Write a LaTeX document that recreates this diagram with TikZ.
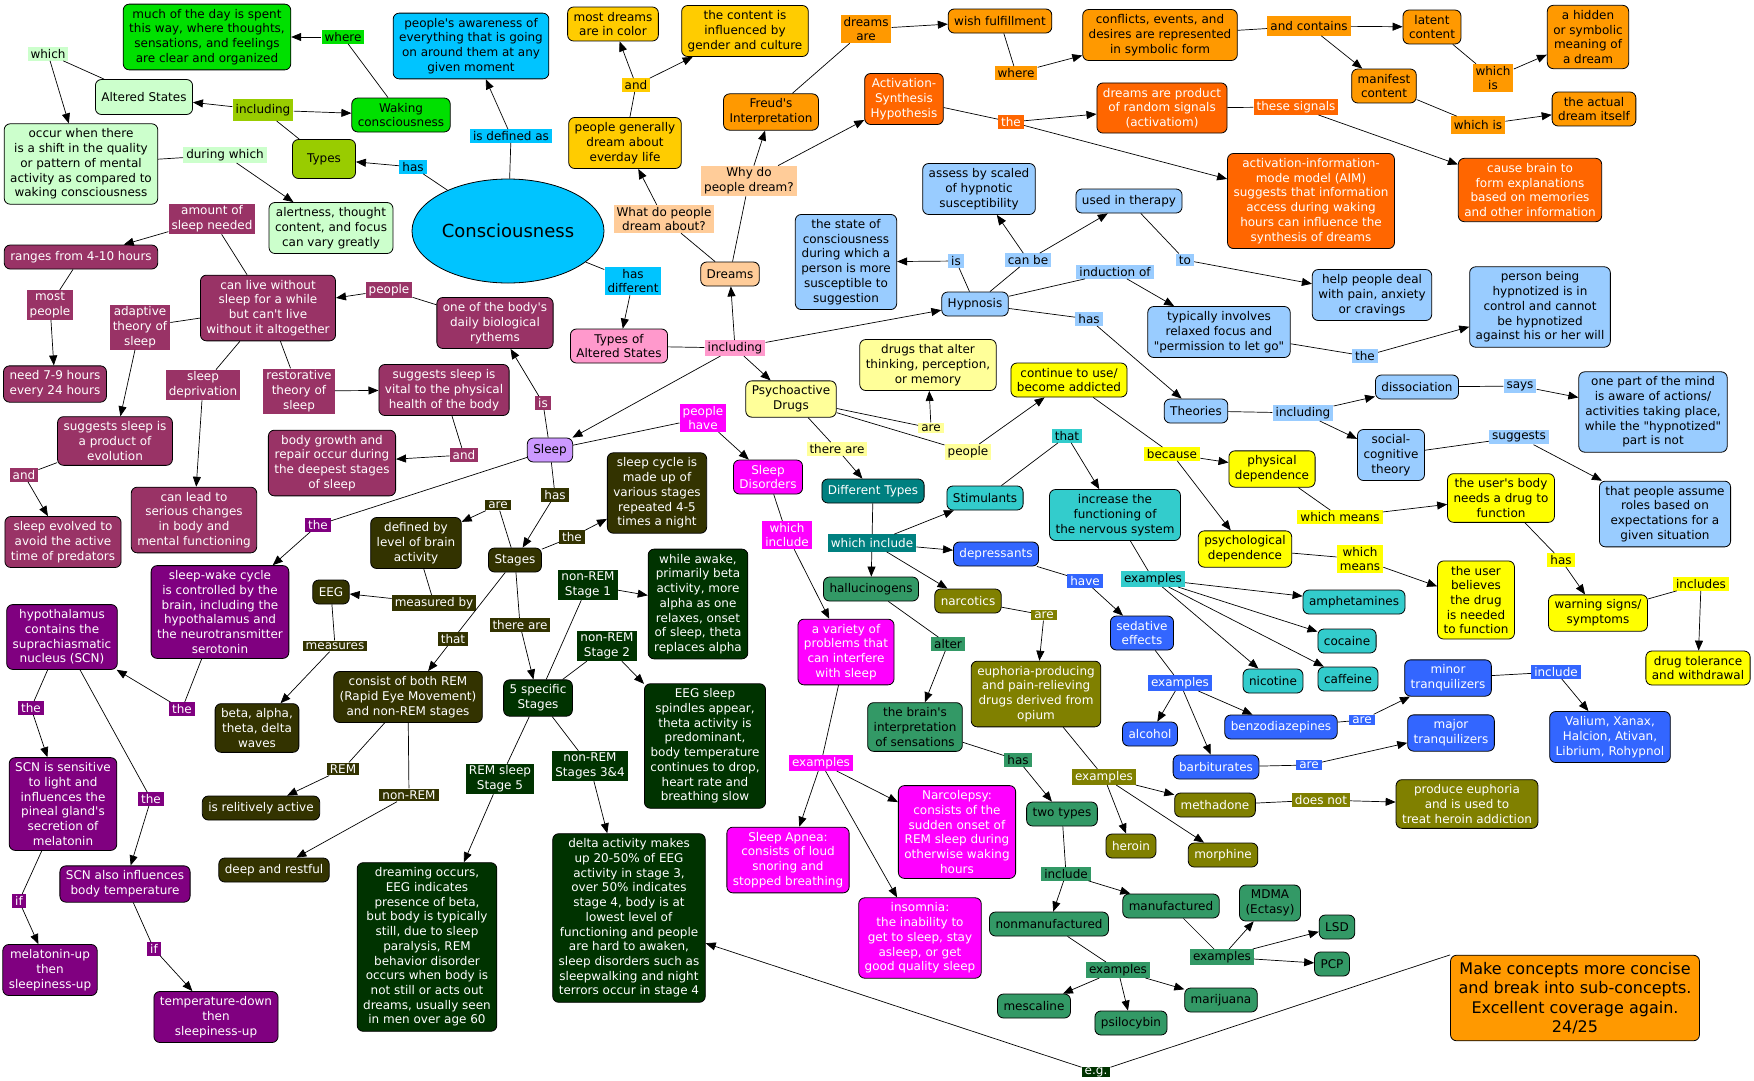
\documentclass[tikz,border=0pt]{standalone}
\usepackage{fontspec}
\setmainfont{DejaVu Sans}
\usetikzlibrary{arrows.meta,shapes.geometric}
\definecolor{mapCyan}{HTML}{00C4FF}
\definecolor{mapGreen}{HTML}{00E000}
\definecolor{mapPaleGreen}{HTML}{CCFFCC}
\definecolor{mapYellowGreen}{HTML}{99CC00}
\definecolor{mapGold}{HTML}{FFCC00}
\definecolor{mapPeach}{HTML}{FFCC99}
\definecolor{mapOrange}{HTML}{FF9900}
\definecolor{mapDarkOrange}{HTML}{FF6600}
\definecolor{mapSky}{HTML}{99CCFF}
\definecolor{mapPink}{HTML}{FF99CC}
\definecolor{mapLightYellow}{HTML}{FFFF99}
\definecolor{mapYellow}{HTML}{FFFF00}
\definecolor{mapTeal}{HTML}{008080}
\definecolor{mapTurq}{HTML}{33CCCC}
\definecolor{mapRoyal}{HTML}{3366FF}
\definecolor{mapOlive}{HTML}{808000}
\definecolor{mapSeaGreen}{HTML}{339966}
\definecolor{mapMagenta}{HTML}{FF00FF}
\definecolor{mapLavender}{HTML}{CC99FF}
\definecolor{mapMaroon}{HTML}{993366}
\definecolor{mapPurple}{HTML}{800080}
\definecolor{mapDarkOlive}{HTML}{333300}
\definecolor{mapDarkGreen}{HTML}{003300}
\newcommand{\ap}{\textquotesingle}
\newcommand{\qt}{\textquotedbl}

\begin{document}
\begin{tikzpicture}[x=1pt,y=-1pt]
\tikzset{
  cbox/.style={draw=black,line width=0.8pt,rounded corners=6pt,align=center,inner xsep=6pt,inner ysep=5pt,minimum height=24pt,font=\fontsize{12}{14.7}\selectfont},
  lbox/.style={align=center,inner xsep=3pt,inner ysep=2pt,font=\fontsize{12}{14.7}\selectfont},
  mapedge/.style={draw=black,line width=0.7pt},
  directed/.style={mapedge,-{Triangle[length=10pt,width=8pt]}},
  undirected/.style={mapedge},
  oncyan/.style={fill=mapCyan},
  ongreen/.style={fill=mapGreen},
  onpalegreen/.style={fill=mapPaleGreen},
  onyellowgreen/.style={fill=mapYellowGreen},
  ongold/.style={fill=mapGold},
  onpeach/.style={fill=mapPeach},
  onorange/.style={fill=mapOrange},
  ondarkorange/.style={fill=mapDarkOrange,text=white},
  onsky/.style={fill=mapSky},
  onpink/.style={fill=mapPink},
  onlightyellow/.style={fill=mapLightYellow},
  onyellow/.style={fill=mapYellow},
  onteal/.style={fill=mapTeal,text=white},
  onturq/.style={fill=mapTurq},
  onroyal/.style={fill=mapRoyal,text=white},
  onolive/.style={fill=mapOlive,text=white},
  onseagreen/.style={fill=mapSeaGreen},
  onmagenta/.style={fill=mapMagenta,text=white},
  onlavender/.style={fill=mapLavender},
  onmaroon/.style={fill=mapMaroon,text=white},
  onpurple/.style={fill=mapPurple,text=white},
  ondarkolive/.style={fill=mapDarkOlive,text=white},
  ondarkgreen/.style={fill=mapDarkGreen,text=white}
}
\fill[white] (0,0) rectangle (1754,1080);
\useasboundingbox (0,0) rectangle (1754,1080);

\node[ellipse,draw=black,line width=0.8pt,oncyan,minimum width=192pt,minimum height=104pt,inner sep=0pt,font=\fontsize{18}{22}\selectfont] (n_consc) at (508,231) {Consciousness};
\node[cbox,oncyan] (n_aware) at (471,46) {people\ap s awareness of\\everything that is going\\on around them at any\\given moment};
\node[lbox,oncyan] (l_isdef) at (511,136) {is defined as};
\node[lbox,oncyan] (l_has1) at (413,167) {has};
\node[lbox,oncyan] (l_hasdiff) at (633,281) {has\\different};

\node[cbox,ongreen] (n_muchday) at (207,37) {much of the day is spent\\this way, where thoughts,\\sensations, and feelings\\are clear and organized};
\node[cbox,ongreen] (n_waking) at (401,115) {Waking\\consciousness};
\node[lbox,ongreen] (l_where1) at (343,37) {where};
\node[cbox,onpalegreen,minimum height=35pt] (n_altered) at (144,97) {Altered States};
\node[cbox,onpalegreen] (n_occur) at (81,164) {occur when there\\is a shift in the quality\\or pattern of mental\\activity as compared to\\waking consciousness};
\node[cbox,onpalegreen] (n_alert) at (331,228) {alertness, thought\\content, and focus\\can vary greatly};
\node[lbox,onpalegreen] (l_which) at (48,54) {which};
\node[lbox,onpalegreen] (l_during) at (225,155) {during which};
\node[cbox,onyellowgreen,minimum height=39pt,minimum width=63pt] (n_types) at (324,159) {Types};
\node[lbox,onyellowgreen,inner ysep=5pt] (l_incl1) at (263,110) {including};

\node[cbox,ongold] (n_color) at (613,24) {most dreams\\are in color};
\node[cbox,ongold] (n_gender) at (745,31) {the content is\\influenced by\\gender and culture};
\node[cbox,ongold] (n_everyday) at (625,143) {people generally\\dream about\\everday life};
\node[lbox,ongold] (l_and1) at (636,85) {and};
\node[cbox,onpeach] (n_dreams) at (730,274) {Dreams};
\node[lbox,onpeach] (l_what) at (664,219) {What do people\\dream about?};
\node[lbox,onpeach] (l_why) at (749,181) {Why do\\people dream?};
\node[cbox,onorange] (n_freud) at (771,112) {Freud\ap s\\Interpretation};
\node[cbox,onorange] (n_wish) at (1000,21) {wish fulfillment};
\node[cbox,onorange] (n_conflict) at (1160,35) {conflicts, events, and\\desires are represented\\in symbolic form};
\node[cbox,onorange] (n_latent) at (1432,27) {latent\\content};
\node[cbox,onorange] (n_manifest) at (1384,86) {manifest\\content};
\node[cbox,onorange] (n_hidden) at (1588,37) {a hidden\\or symbolic\\meaning of\\a dream};
\node[cbox,onorange] (n_actual) at (1594,109) {the actual\\dream itself};
\node[lbox,onorange] (l_dreamsare) at (866,29) {dreams\\are};
\node[lbox,onorange] (l_where2) at (1016,73) {where};
\node[lbox,onorange,inner ysep=5pt] (l_contains) at (1309,26) {and contains};
\node[lbox,onorange] (l_whichis1) at (1493,78) {which\\is};
\node[lbox,onorange,inner ysep=4pt] (l_whichis2) at (1478,125) {which is};
\node[cbox,ondarkorange] (n_actsyn) at (904,99) {Activation-\\Synthesis\\Hypothesis};
\node[cbox,ondarkorange] (n_random) at (1162,108) {dreams are product\\of random signals\\(activatiom)};
\node[cbox,ondarkorange] (n_aim) at (1311,201) {activation-information-\\mode model (AIM)\\suggests that information\\access during waking\\hours can influence the\\synthesis of dreams};
\node[cbox,ondarkorange] (n_cause) at (1530,190) {cause brain to\\form explanations\\based on memories\\and other information};
\node[lbox,ondarkorange] (l_the1) at (1011,122) {the};
\node[lbox,ondarkorange] (l_signals) at (1296,107) {these signals};

\node[cbox,onsky] (n_hypnosis) at (975,304) {Hypnosis};
\node[cbox,onsky] (n_suscept) at (846,262) {the state of\\consciousness\\during which a\\person is more\\susceptible to\\suggestion};
\node[cbox,onsky] (n_assess) at (979,189) {assess by scaled\\of hypnotic\\susceptibility};
\node[cbox,onsky] (n_therapy) at (1129,201) {used in therapy};
\node[cbox,onsky] (n_pain) at (1372,295) {help people deal\\with pain, anxiety\\or cravings};
\node[cbox,onsky] (n_relaxed) at (1219,332) {typically involves\\relaxed focus and\\\qt permission to let go\qt};
\node[cbox,onsky] (n_control) at (1540,307) {person being\\hypnotized is in\\control and cannot\\be hypnotized\\against his or her will};
\node[cbox,onsky] (n_theories) at (1196,411) {Theories};
\node[cbox,onsky] (n_dissoc) at (1417,387) {dissociation};
\node[cbox,onsky] (n_social) at (1391,455) {social-\\cognitive\\theory};
\node[cbox,onsky] (n_onepart) at (1653,412) {one part of the mind\\is aware of actions/\\activities taking place,\\while the \qt hypnotized\qt\\part is not};
\node[cbox,onsky] (n_roles) at (1665,514) {that people assume\\roles based on\\expectations for a\\given situation};
\node[lbox,onsky] (l_is1) at (956,261) {is};
\node[lbox,onsky] (l_canbe) at (1028,260) {can be};
\node[lbox,onsky] (l_induct) at (1115,272) {induction of};
\node[lbox,onsky] (l_to) at (1185,260) {to};
\node[lbox,onsky] (l_has2) at (1089,319) {has};
\node[lbox,onsky] (l_the2) at (1365,356) {the};
\node[lbox,onsky] (l_incl3) at (1303,413) {including};
\node[lbox,onsky] (l_says) at (1520,386) {says};
\node[lbox,onsky] (l_suggests) at (1519,437) {suggests};

\node[cbox,onpink] (n_typesalt) at (619,346) {Types of\\Altered States};
\node[lbox,onpink] (l_incl2) at (735,348) {including};

\node[cbox,onlightyellow] (n_psycho) at (791,399) {Psychoactive\\Drugs};
\node[cbox,onlightyellow] (n_alter) at (928,365) {drugs that alter\\thinking, perception,\\or memory};
\node[lbox,onlightyellow] (l_are1) at (931,428) {are};
\node[lbox,onlightyellow] (l_people2) at (968,452) {people};
\node[lbox,onlightyellow] (l_thereare1) at (837,449) {there are};
\node[cbox,onyellow] (n_addict) at (1069,380) {continue to use/\\become addicted};
\node[cbox,onyellow] (n_physical) at (1272,469) {physical\\dependence};
\node[cbox,onyellow] (n_psychol) at (1245,549) {psychological\\dependence};
\node[cbox,onyellow] (n_bodyneeds) at (1501,498) {the user\ap s body\\needs a drug to\\function};
\node[cbox,onyellow] (n_believes) at (1476,600) {the user\\believes\\the drug\\is needed\\to function};
\node[cbox,onyellow] (n_warning) at (1598,613) {warning signs/\\symptoms};
\node[cbox,onyellow] (n_tolerance) at (1698,668) {drug tolerance\\and withdrawal};
\node[lbox,onyellow] (l_because) at (1172,454) {because};
\node[lbox,onyellow] (l_means1) at (1340,517) {which means};
\node[lbox,onyellow] (l_means2) at (1360,559) {which\\means};
\node[lbox,onyellow] (l_has3) at (1561,560) {has};
\node[lbox,onyellow] (l_includes) at (1701,584) {includes};

\node[cbox,onteal] (n_difftypes) at (873,491) {Different Types};
\node[lbox,onteal,inner ysep=4pt] (l_whichincl1) at (872,543) {which include};
\node[cbox,onturq] (n_stim) at (985,498) {Stimulants};
\node[cbox,onturq] (n_increase) at (1115,515) {increase the\\functioning of\\the nervous system};
\node[cbox,onturq] (n_amph) at (1354,602) {amphetamines};
\node[cbox,onturq] (n_cocaine) at (1347,641) {cocaine};
\node[cbox,onturq] (n_caffeine) at (1348,679) {caffeine};
\node[cbox,onturq] (n_nicotine) at (1273,681) {nicotine};
\node[lbox,onturq] (l_that1) at (1067,436) {that};
\node[lbox,onturq] (l_ex1) at (1153,579) {examples};
\node[cbox,onroyal] (n_depress) at (996,554) {depressants};
\node[cbox,onroyal] (n_sedative) at (1142,633) {sedative\\effects};
\node[cbox,onroyal] (n_alcohol) at (1150,734) {alcohol};
\node[cbox,onroyal] (n_benzo) at (1281,727) {benzodiazepines};
\node[cbox,onroyal] (n_barb) at (1216,767) {barbiturates};
\node[cbox,onroyal] (n_minor) at (1448,678) {minor\\tranquilizers};
\node[cbox,onroyal] (n_major) at (1451,733) {major\\tranquilizers};
\node[cbox,onroyal] (n_valium) at (1610,737) {Valium, Xanax,\\Halcion, Ativan,\\Librium, Rohypnol};
\node[lbox,onroyal] (l_have) at (1085,581) {have};
\node[lbox,onroyal] (l_ex2) at (1180,683) {examples};
\node[lbox,onroyal] (l_are2) at (1362,720) {are};
\node[lbox,onroyal] (l_are3) at (1309,765) {are};
\node[lbox,onroyal] (l_include1) at (1556,672) {include};
\node[cbox,onolive] (n_narc) at (968,601) {narcotics};
\node[cbox,onolive] (n_euphoria) at (1036,694) {euphoria-producing\\and pain-relieving\\drugs derived from\\opium};
\node[cbox,onolive] (n_heroin) at (1131,846) {heroin};
\node[cbox,onolive] (n_morphine) at (1223,855) {morphine};
\node[cbox,onolive] (n_methadone) at (1215,805) {methadone};
\node[cbox,onolive] (n_produce) at (1467,804) {produce euphoria\\and is used to\\treat heroin addiction};
\node[lbox,onolive] (l_are4) at (1044,615) {are};
\node[lbox,onolive] (l_ex3) at (1104,777) {examples};
\node[lbox,onolive] (l_doesnot) at (1321,800) {does not};
\node[cbox,onseagreen] (n_halluc) at (871,589) {hallucinogens};
\node[cbox,onseagreen] (n_interp) at (915,727) {the brain\ap s\\interpretation\\of sensations};
\node[cbox,onseagreen] (n_twotypes) at (1062,814) {two types};
\node[cbox,onseagreen] (n_manuf) at (1171,906) {manufactured};
\node[cbox,onseagreen] (n_nonmanuf) at (1049,924) {nonmanufactured};
\node[cbox,onseagreen] (n_mdma) at (1270,903) {MDMA\\(Ectasy)};
\node[cbox,onseagreen] (n_lsd) at (1337,927) {LSD};
\node[cbox,onseagreen] (n_pcp) at (1332,964) {PCP};
\node[cbox,onseagreen] (n_mescaline) at (1034,1006) {mescaline};
\node[cbox,onseagreen] (n_psilo) at (1131,1023) {psilocybin};
\node[cbox,onseagreen] (n_marijuana) at (1221,1000) {marijuana};
\node[lbox,onseagreen] (l_alter) at (948,644) {alter};
\node[lbox,onseagreen] (l_has4) at (1018,760) {has};
\node[lbox,onseagreen] (l_include2) at (1066,874) {include};
\node[lbox,onseagreen] (l_ex4) at (1222,957) {examples};
\node[lbox,onseagreen] (l_ex5) at (1118,970) {examples};

\node[cbox,onlavender] (n_sleep) at (550,450) {Sleep};
\node[cbox,onmagenta] (n_disorders) at (768,477) {Sleep\\Disorders};
\node[cbox,onmagenta] (n_variety) at (846,652) {a variety of\\problems that\\can interfere\\with sleep};
\node[cbox,onmagenta] (n_apnea) at (788,860) {Sleep Apnea:\\consists of loud\\snoring and\\stopped breathing};
\node[cbox,onmagenta] (n_narco) at (957,832) {Narcolepsy:\\consists of the\\sudden onset of\\REM sleep during\\otherwise waking\\hours};
\node[cbox,onmagenta] (n_insomnia) at (920,938) {insomnia:\\the inability to\\get to sleep, stay\\asleep, or get\\good quality sleep};
\node[lbox,onmagenta] (l_peoplehave) at (703,418) {people\\have};
\node[lbox,onmagenta] (l_whichincl2) at (787,535) {which\\include};
\node[lbox,onmagenta] (l_ex6) at (821,763) {examples};

\node[cbox,onmaroon] (n_rhythm) at (495,323) {one of the body\ap s\\daily biological\\rythems};
\node[cbox,onmaroon] (n_canlive) at (268,308) {can live without\\sleep for a while\\but can\ap t live\\without it altogether};
\node[cbox,onmaroon] (n_ranges) at (81,257) {ranges from 4-10 hours};
\node[cbox,onmaroon] (n_need) at (55,384) {need 7-9 hours\\every 24 hours};
\node[cbox,onmaroon] (n_evolution) at (115,441) {suggests sleep is\\a product of\\evolution};
\node[cbox,onmaroon] (n_predators) at (63,542) {sleep evolved to\\avoid the active\\time of predators};
\node[cbox,onmaroon] (n_changes) at (194,520) {can lead to\\serious changes\\in body and\\mental functioning};
\node[cbox,onmaroon] (n_vital) at (444,390) {suggests sleep is\\vital to the physical\\health of the body};
\node[cbox,onmaroon] (n_growth) at (332,463) {body growth and\\repair occur during\\the deepest stages\\of sleep};
\node[lbox,onmaroon] (l_is2) at (543,403) {is};
\node[lbox,onmaroon] (l_people1) at (389,290) {people};
\node[lbox,onmaroon] (l_amount) at (212,219) {amount of\\sleep needed};
\node[lbox,onmaroon] (l_most) at (50,305) {most\\people};
\node[lbox,onmaroon] (l_adaptive) at (140,327) {adaptive\\theory of\\sleep};
\node[lbox,onmaroon] (l_depriv) at (203,385) {sleep\\deprivation};
\node[lbox,onmaroon] (l_restor) at (299,391) {restorative\\theory of\\sleep};
\node[lbox,onmaroon] (l_and2) at (24,475) {and};
\node[lbox,onmaroon] (l_and3) at (464,455) {and};

\node[cbox,onpurple] (n_cycle) at (220,612) {sleep-wake cycle\\is controlled by the\\brain, including the\\hypothalamus and\\the neurotransmitter\\serotonin};
\node[cbox,onpurple] (n_hypo) at (62,637) {hypothalamus\\contains the\\suprachiasmatic\\nucleus (SCN)};
\node[cbox,onpurple] (n_scnlight) at (63,804) {SCN is sensitive\\to light and\\influences the\\pineal gland\ap s\\secretion of\\melatonin};
\node[cbox,onpurple] (n_scntemp) at (125,884) {SCN also influences\\body temperature};
\node[cbox,onpurple] (n_melatonin) at (50,970) {melatonin-up\\then\\sleepiness-up};
\node[cbox,onpurple] (n_temp) at (216,1017) {temperature-down\\then\\sleepiness-up};
\node[lbox,onpurple] (l_the3) at (318,525) {the};
\node[lbox,onpurple] (l_the4) at (182,709) {the};
\node[lbox,onpurple] (l_the5) at (31,708) {the};
\node[lbox,onpurple] (l_the6) at (151,799) {the};
\node[lbox,onpurple] (l_if1) at (19,901) {if};
\node[lbox,onpurple] (l_if2) at (154,949) {if};

\node[cbox,ondarkolive] (n_stages) at (515,560) {Stages};
\node[cbox,ondarkolive] (n_defined) at (416,543) {defined by\\level of brain\\activity};
\node[cbox,ondarkolive] (n_cyclemade) at (657,493) {sleep cycle is\\made up of\\various stages\\repeated 4-5\\times a night};
\node[cbox,ondarkolive] (n_eeg) at (331,592) {EEG};
\node[cbox,ondarkolive] (n_waves) at (257,728) {beta, alpha,\\theta, delta\\waves};
\node[cbox,ondarkolive] (n_consist) at (408,697) {consist of both REM\\(Rapid Eye Movement)\\and non-REM stages};
\node[cbox,ondarkolive] (n_active) at (261,808) {is relitively active};
\node[cbox,ondarkolive] (n_deep) at (274,870) {deep and restful};
\node[lbox,ondarkolive] (l_has5) at (555,495) {has};
\node[lbox,ondarkolive] (l_are5) at (498,505) {are};
\node[lbox,ondarkolive] (l_the7) at (572,537) {the};
\node[lbox,ondarkolive] (l_measby) at (434,603) {measured by};
\node[lbox,ondarkolive] (l_measures) at (335,646) {measures};
\node[lbox,ondarkolive] (l_that2) at (453,639) {that};
\node[lbox,ondarkolive] (l_thereare2) at (520,625) {there are};
\node[lbox,ondarkolive] (l_rem) at (343,769) {REM};
\node[lbox,ondarkolive] (l_nonrem) at (409,795) {non-REM};

\node[cbox,ondarkgreen] (n_five) at (538,698) {5 specific\\Stages};
\node[cbox,ondarkgreen] (n_awake) at (698,604) {while awake,\\primarily beta\\activity, more\\alpha as one\\relaxes, onset\\of sleep, theta\\replaces alpha};
\node[cbox,ondarkgreen] (n_spindles) at (705,746) {EEG sleep\\spindles appear,\\theta activity is\\predominant,\\body temperature\\continues to drop,\\heart rate and\\breathing slow};
\node[cbox,ondarkgreen] (n_dreaming) at (427,947) {dreaming occurs,\\EEG indicates\\presence of beta,\\but body is typically\\still, due to sleep\\paralysis, REM\\behavior disorder\\occurs when body is\\not still or acts out\\dreams, usually seen\\in men over age 60};
\node[cbox,ondarkgreen] (n_delta) at (629,918) {delta activity makes\\up 20-50\% of EEG\\activity in stage 3,\\over 50\% indicates\\stage 4, body is at\\lowest level of\\functioning and people\\are hard to awaken,\\sleep disorders such as\\sleepwalking and night\\terrors occur in stage 4};
\node[lbox,ondarkgreen] (l_stage1) at (588,585) {non-REM\\Stage 1};
\node[lbox,ondarkgreen] (l_stage2) at (607,646) {non-REM\\Stage 2};
\node[lbox,ondarkgreen] (l_stage5) at (500,779) {REM sleep\\Stage 5};
\node[lbox,ondarkgreen] (l_stage34) at (590,766) {non-REM\\Stages 3\&4};
\node[lbox,ondarkgreen,inner ysep=0.5pt] (l_eg) at (1096,1072) {e.g.};

\node[cbox,onorange,font=\fontsize{16}{19.3}\selectfont,inner xsep=8pt,inner ysep=7pt] (n_comment) at (1575,998) {Make concepts more concise\\and break into sub-concepts.\\Excellent coverage again.\\24/25};

\draw[undirected] (n_consc) -- (l_isdef);
\draw[directed] (l_isdef) -- (n_aware);
\draw[undirected] (n_consc) -- (l_has1);
\draw[directed] (l_has1) -- (n_types);
\draw[undirected] (n_types) -- (l_incl1);
\draw[directed] (l_incl1) -- (n_altered);
\draw[directed] (l_incl1) -- (n_waking);
\draw[undirected] (n_waking) -- (l_where1);
\draw[directed] (l_where1) -- (n_muchday);
\draw[undirected] (n_altered) -- (l_which);
\draw[directed] (l_which) -- (n_occur);
\draw[undirected] (n_occur) -- (l_during);
\draw[directed] (l_during) -- (n_alert);
\draw[undirected] (n_consc) -- (l_hasdiff);
\draw[directed] (l_hasdiff) -- (n_typesalt);
\draw[undirected] (n_typesalt) -- (l_incl2);
\draw[directed] (l_incl2) -- (n_dreams);
\draw[directed] (l_incl2) -- (n_sleep);
\draw[directed] (l_incl2) -- (n_hypnosis);
\draw[directed] (l_incl2) -- (n_psycho);

\draw[undirected] (n_dreams) -- (l_what);
\draw[directed] (l_what) -- (n_everyday);
\draw[undirected] (n_everyday) -- (l_and1);
\draw[directed] (l_and1) -- (n_color);
\draw[directed] (l_and1) -- (n_gender);
\draw[undirected] (n_dreams) -- (l_why);
\draw[directed] (l_why) -- (n_freud);
\draw[directed] (l_why) -- (n_actsyn);
\draw[undirected] (n_freud) -- (l_dreamsare);
\draw[directed] (l_dreamsare) -- (n_wish);
\draw[undirected] (n_wish) -- (l_where2);
\draw[directed] (l_where2) -- (n_conflict);
\draw[undirected] (n_conflict) -- (l_contains);
\draw[directed] (l_contains) -- (n_latent);
\draw[directed] (l_contains) -- (n_manifest);
\draw[undirected] (n_latent) -- (l_whichis1);
\draw[directed] (l_whichis1) -- (n_hidden);
\draw[undirected] (n_manifest) -- (l_whichis2);
\draw[directed] (l_whichis2) -- (n_actual);
\draw[undirected] (n_actsyn) -- (l_the1);
\draw[directed] (l_the1) -- (n_random);
\draw[directed] (l_the1) -- (n_aim);
\draw[undirected] (n_random) -- (l_signals);
\draw[directed] (l_signals) -- (n_cause);

\draw[undirected] (n_hypnosis) -- (l_is1);
\draw[directed] (l_is1) -- (n_suscept);
\draw[undirected] (n_hypnosis) -- (l_canbe);
\draw[directed] (l_canbe) -- (n_assess);
\draw[directed] (l_canbe) -- (n_therapy);
\draw[undirected] (n_therapy) -- (l_to);
\draw[directed] (l_to) -- (n_pain);
\draw[undirected] (n_hypnosis) -- (l_induct);
\draw[directed] (l_induct) -- (n_relaxed);
\draw[undirected] (n_relaxed) -- (l_the2);
\draw[directed] (l_the2) -- (n_control);
\draw[undirected] (n_hypnosis) -- (l_has2);
\draw[directed] (l_has2) -- (n_theories);
\draw[undirected] (n_theories) -- (l_incl3);
\draw[directed] (l_incl3) -- (n_dissoc);
\draw[directed] (l_incl3) -- (n_social);
\draw[undirected] (n_dissoc) -- (l_says);
\draw[directed] (l_says) -- (n_onepart);
\draw[undirected] (n_social) -- (l_suggests);
\draw[directed] (l_suggests) -- (n_roles);

\draw[undirected] (n_psycho) -- (l_are1);
\draw[directed] (l_are1) -- (n_alter);
\draw[undirected] (n_psycho) -- (l_people2);
\draw[directed] (l_people2) -- (n_addict);
\draw[undirected] (n_addict) -- (l_because);
\draw[directed] (l_because) -- (n_physical);
\draw[directed] (l_because) -- (n_psychol);
\draw[undirected] (n_physical) -- (l_means1);
\draw[directed] (l_means1) -- (n_bodyneeds);
\draw[undirected] (n_psychol) -- (l_means2);
\draw[directed] (l_means2) -- (n_believes);
\draw[undirected] (n_bodyneeds) -- (l_has3);
\draw[directed] (l_has3) -- (n_warning);
\draw[undirected] (n_warning) -- (l_includes);
\draw[directed] (l_includes) -- (n_tolerance);
\draw[undirected] (n_psycho) -- (l_thereare1);
\draw[directed] (l_thereare1) -- (n_difftypes);
\draw[undirected] (n_difftypes) -- (l_whichincl1);
\draw[directed] (l_whichincl1) -- (n_stim);
\draw[directed] (l_whichincl1) -- (n_depress);
\draw[directed] (l_whichincl1) -- (n_narc);
\draw[directed] (l_whichincl1) -- (n_halluc);
\draw[undirected] (n_stim) -- (l_that1);
\draw[directed] (l_that1) -- (n_increase);
\draw[undirected] (n_increase) -- (l_ex1);
\draw[directed] (l_ex1) -- (n_amph);
\draw[directed] (l_ex1) -- (n_cocaine);
\draw[directed] (l_ex1) -- (n_caffeine);
\draw[directed] (l_ex1) -- (n_nicotine);
\draw[undirected] (n_depress) -- (l_have);
\draw[directed] (l_have) -- (n_sedative);
\draw[undirected] (n_sedative) -- (l_ex2);
\draw[directed] (l_ex2) -- (n_alcohol);
\draw[directed] (l_ex2) -- (n_benzo);
\draw[directed] (l_ex2) -- (n_barb);
\draw[undirected] (n_benzo) -- (l_are2);
\draw[directed] (l_are2) -- (n_minor);
\draw[undirected] (n_barb) -- (l_are3);
\draw[directed] (l_are3) -- (n_major);
\draw[undirected] (n_minor) -- (l_include1);
\draw[directed] (l_include1) -- (n_valium);
\draw[undirected] (n_narc) -- (l_are4);
\draw[directed] (l_are4) -- (n_euphoria);
\draw[undirected] (n_euphoria) -- (l_ex3);
\draw[directed] (l_ex3) -- (n_methadone);
\draw[directed] (l_ex3) -- (n_heroin);
\draw[directed] (l_ex3) -- (n_morphine);
\draw[undirected] (n_methadone) -- (l_doesnot);
\draw[directed] (l_doesnot) -- (n_produce);
\draw[undirected] (n_halluc) -- (l_alter);
\draw[directed] (l_alter) -- (n_interp);
\draw[undirected] (n_interp) -- (l_has4);
\draw[directed] (l_has4) -- (n_twotypes);
\draw[undirected] (n_twotypes) -- (l_include2);
\draw[directed] (l_include2) -- (n_manuf);
\draw[directed] (l_include2) -- (n_nonmanuf);
\draw[undirected] (n_manuf) -- (l_ex4);
\draw[directed] (l_ex4) -- (n_mdma);
\draw[directed] (l_ex4) -- (n_lsd);
\draw[directed] (l_ex4) -- (n_pcp);
\draw[undirected] (n_nonmanuf) -- (l_ex5);
\draw[directed] (l_ex5) -- (n_mescaline);
\draw[directed] (l_ex5) -- (n_psilo);
\draw[directed] (l_ex5) -- (n_marijuana);

\draw[undirected] (n_sleep) -- (l_peoplehave);
\draw[directed] (l_peoplehave) -- (n_disorders);
\draw[undirected] (n_disorders) -- (l_whichincl2);
\draw[directed] (l_whichincl2) -- (n_variety);
\draw[undirected] (n_variety) -- (l_ex6);
\draw[directed] (l_ex6) -- (n_apnea);
\draw[directed] (l_ex6) -- (n_narco);
\draw[directed] (l_ex6) -- (n_insomnia);
\draw[undirected] (n_sleep) -- (l_is2);
\draw[directed] (l_is2) -- (n_rhythm);
\draw[undirected] (n_rhythm) -- (l_people1);
\draw[directed] (l_people1) -- (n_canlive);
\draw[undirected] (n_canlive) -- (l_amount);
\draw[directed] (l_amount) -- (n_ranges);
\draw[undirected] (n_ranges) -- (l_most);
\draw[directed] (l_most) -- (n_need);
\draw[undirected] (n_canlive) -- (l_adaptive);
\draw[directed] (l_adaptive) -- (n_evolution);
\draw[undirected] (n_evolution) -- (l_and2);
\draw[directed] (l_and2) -- (n_predators);
\draw[undirected] (n_canlive) -- (l_depriv);
\draw[directed] (l_depriv) -- (n_changes);
\draw[undirected] (n_canlive) -- (l_restor);
\draw[directed] (l_restor) -- (n_vital);
\draw[undirected] (n_vital) -- (l_and3);
\draw[directed] (l_and3) -- (n_growth);
\draw[undirected] (n_sleep) -- (l_the3);
\draw[directed] (l_the3) -- (n_cycle);
\draw[undirected] (n_cycle) -- (l_the4);
\draw[directed] (l_the4) -- (n_hypo);
\draw[undirected] (n_hypo) -- (l_the5);
\draw[directed] (l_the5) -- (n_scnlight);
\draw[undirected] (n_hypo) -- (l_the6);
\draw[directed] (l_the6) -- (n_scntemp);
\draw[undirected] (n_scnlight) -- (l_if1);
\draw[directed] (l_if1) -- (n_melatonin);
\draw[undirected] (n_scntemp) -- (l_if2);
\draw[directed] (l_if2) -- (n_temp);
\draw[undirected] (n_sleep) -- (l_has5);
\draw[directed] (l_has5) -- (n_stages);
\draw[undirected] (n_stages) -- (l_are5);
\draw[directed] (l_are5) -- (n_defined);
\draw[undirected] (n_stages) -- (l_the7);
\draw[directed] (l_the7) -- (n_cyclemade);
\draw[undirected] (n_defined) -- (l_measby);
\draw[directed] (l_measby) -- (n_eeg);
\draw[undirected] (n_eeg) -- (l_measures);
\draw[directed] (l_measures) -- (n_waves);
\draw[undirected] (n_stages) -- (l_that2);
\draw[directed] (l_that2) -- (n_consist);
\draw[undirected] (n_consist) -- (l_rem);
\draw[directed] (l_rem) -- (n_active);
\draw[undirected] (n_consist) -- (l_nonrem);
\draw[directed] (l_nonrem) -- (n_deep);
\draw[undirected] (n_stages) -- (l_thereare2);
\draw[directed] (l_thereare2) -- (n_five);
\draw[undirected] (n_five) -- (l_stage1);
\draw[directed] (l_stage1) -- (n_awake);
\draw[undirected] (n_five) -- (l_stage2);
\draw[directed] (l_stage2) -- (n_spindles);
\draw[undirected] (n_five) -- (l_stage5);
\draw[directed] (l_stage5) -- (n_dreaming);
\draw[undirected] (n_five) -- (l_stage34);
\draw[directed] (l_stage34) -- (n_delta);
\draw[undirected] (n_comment.north west) -- (l_eg);
\draw[directed] (l_eg) -- (n_delta);
\end{tikzpicture}
\end{document}
